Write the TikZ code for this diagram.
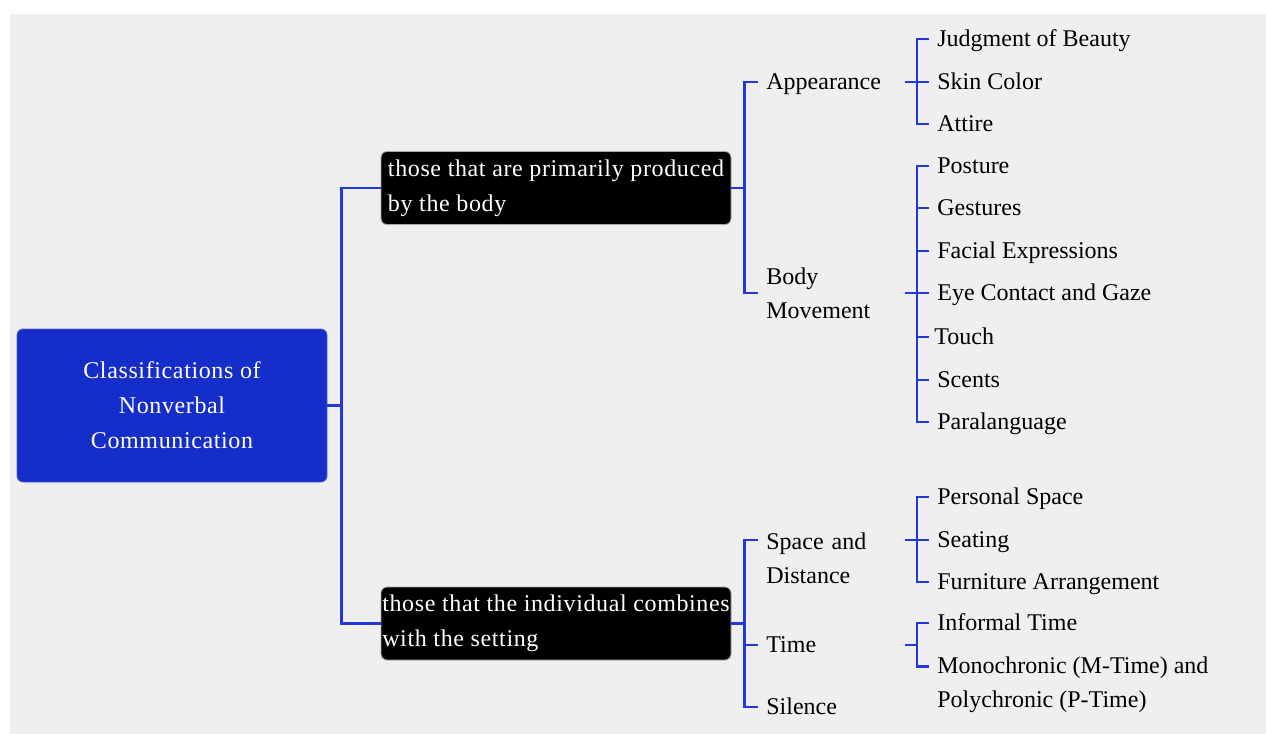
\documentclass[tikz,border=0pt]{standalone}
\usepackage{fontspec}
\setmainfont{Liberation Serif}
\newfontfamily\boxfont[LetterSpace=2.6]{Liberation Serif}
\usepackage{xcolor}

\definecolor{bggray}{HTML}{EFEFEF}
\definecolor{rootblue}{HTML}{152EC9}
\definecolor{linkblue}{HTML}{2038DC}

\tikzset{
	elbow/.style={to path={-- ++(#1,0) |- (\tikztotarget)}},
	elbow/.default=12,
	oneline/.style={text height=9pt,text depth=2pt}
}

\begin{document}
\begin{tikzpicture}[x=0.5pt,y=-0.5pt]
			\useasboundingbox (0,0) rectangle (1266,734);
			\fill[bggray] (10,14) rectangle (1266,734);
			\begin{scope}[every node/.style={text=white,rounded corners=3pt,
					font=\boxfont\fontsize{12}{17.5}\selectfont}]
				\node[fill=rootblue,draw=rootblue!75!white,align=center,
					minimum width=155pt,minimum height=76.5pt] (root) at (172,405.5)
					{Classifications of\\Nonverbal\\Communication};
				\node[fill=black,draw=gray!70,align=left,inner xsep=0pt,
					minimum width=175pt,minimum height=36.5pt] (body) at (556,188)
					{those that are primarily produced\\by the body};
				\node[fill=black,draw=gray!70,align=left,inner xsep=0pt,
					minimum width=175pt,minimum height=36.5pt] (setting) at (556,623.5)
					{those that the individual combines\\with the setting};
			\end{scope}
			\begin{scope}[every node/.style={anchor=west,inner xsep=4pt,inner ysep=0pt,
					text width=65pt,align=left,font=\fontsize{12}{17}\selectfont}]
				\node[oneline] (look) at (758,82) {Appearance};
				\node (move) at (758,293) {Body\\Movement};
				\node (space) at (758,558) {Space and\\Distance};
				\node[oneline] (time) at (758,645) {Time};
				\node[oneline] (silence) at (758,707) {Silence};
			\end{scope}
			\begin{scope}[every node/.style={anchor=west,inner xsep=4pt,inner ysep=0pt,
					align=left,font=\fontsize{12}{17}\selectfont}]
				\node[oneline] (beauty) at (929,39) {Judgment of Beauty};
				\node[oneline] (skin) at (929,82) {Skin Color};
				\node[oneline] (attire) at (929,124) {Attire};
				\node[oneline] (posture) at (929,166) {Posture};
				\node[oneline] (gesture) at (929,208) {Gestures};
				\node[oneline] (face) at (929,251) {Facial Expressions};
				\node[oneline] (gaze) at (929,293) {Eye Contact and Gaze};
				\node[oneline] (touch) at (926,337) {Touch};
				\node[oneline] (scent) at (929,380) {Scents};
				\node[oneline] (para) at (929,422) {Paralanguage};
				\node[oneline] (personal) at (929,497) {Personal Space};
				\node[oneline] (seat) at (929,540) {Seating};
				\node[oneline] (furniture) at (929,582) {Furniture Arrangement};
				\node[oneline] (informal) at (929,623) {Informal Time};
				\node (chronic) at (929,684.5) {Monochronic (M-Time) and\\Polychronic (P-Time)};
			\end{scope}
			\begin{scope}[every edge/.style={draw=linkblue,line width=1.25pt}]
				\path (root.east) edge[elbow=14] (body.west);
				\path (root.east) edge[elbow=14] (setting.west);
				\path (body.east) edge[elbow=13] (look.west);
				\path (body.east) edge[elbow=13] (move.west);
				\path (setting.east) edge[elbow=13] ([yshift=9pt]space.west);
				\path (setting.east) edge[elbow=13] (time.west);
				\path (setting.east) edge[elbow=13] (silence.west);
				\path (look.east) edge[elbow] (beauty.west);
				\path (look.east) edge[elbow] (skin.west);
				\path (look.east) edge[elbow] (attire.west);
				\path (move.east) edge[elbow] (posture.west);
				\path (move.east) edge[elbow] (gesture.west);
				\path (move.east) edge[elbow] (face.west);
				\path (move.east) edge[elbow] (gaze.west);
				\path (move.east) edge[elbow] ([xshift=3pt/2]touch.west);
				\path (move.east) edge[elbow] (scent.west);
				\path (move.east) edge[elbow] (para.west);
				\path ([yshift=9pt]space.east) edge[elbow] (personal.west);
				\path ([yshift=9pt]space.east) edge[elbow] (seat.west);
				\path ([yshift=9pt]space.east) edge[elbow] (furniture.west);
				\path (time.east) edge[elbow] (informal.west);
				\path (time.east) edge[elbow] ([yshift=9pt]chronic.west);
			\end{scope}
		\end{tikzpicture}
\end{document}
